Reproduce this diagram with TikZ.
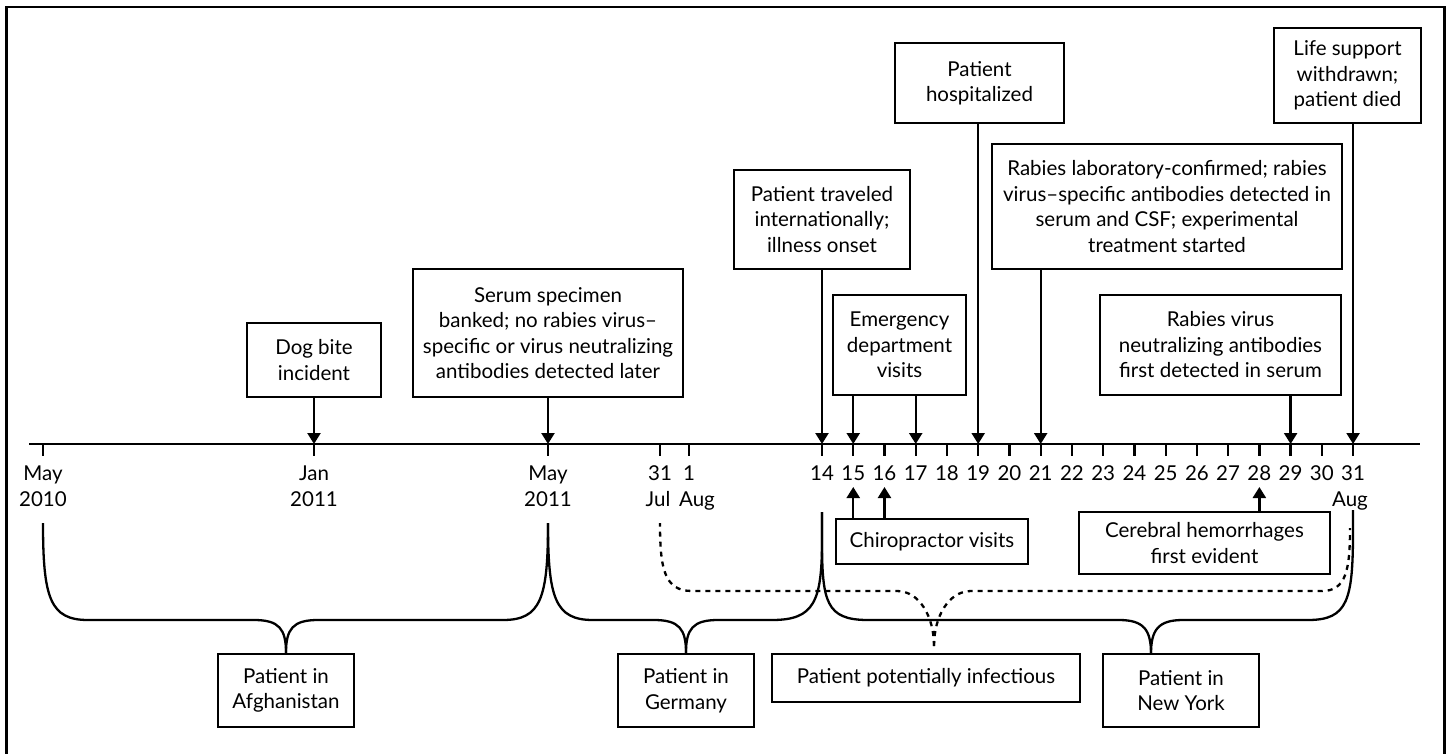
\documentclass[tikz,border=0pt]{standalone}
\usepackage{fontspec}
\setmainfont{Lato}
\usetikzlibrary{arrows.meta,calc}
\begin{document}
\begin{tikzpicture}[x=1pt,y=-1pt,
  box/.style={draw, line width=2.4pt, align=center, inner sep=0pt, font=\fontsize{20.5}{25.5}\selectfont},
  lbl/.style={inner sep=0pt, anchor=base, font=\fontsize{20.5}{24}\selectfont},
  arr/.style={line width=2.3pt, -{Triangle[width=13pt,length=11pt]}},
  tick/.style={line width=2.3pt},
  brc/.style={line width=2.3pt},
  dsh/.style={line width=2.3pt, dash pattern=on 5pt off 5pt}]
\useasboundingbox (0,0) rectangle (1448,753);
% frame (open at the bottom)
\draw[line width=2.5pt] (6.5,780) -- (6.5,7) -- (1444.5,7) -- (1444.5,780);

% axis
\draw[line width=2.6pt] (29,444) coordinate (ax0) -- (1420,444) coordinate (ax1);
\coordinate (tMay10) at (43,444);
\coordinate (tJan11) at (314,444);
\coordinate (tMay11) at (548,444);
\coordinate (tJul31) at (660,444);
\coordinate (tAug1) at (689,444);
\foreach \d in {14,...,31} \coordinate (d\d) at ({822+(\d-14)*31.24},444);
\foreach \p in {tMay10,tJan11,tMay11,tJul31,tAug1,d14,d15,d16,d17,d18,d19,d20,d21,d22,d23,d24,d25,d26,d27,d28,d29,d30,d31}
  \draw[tick] (\p) -- ++(0,12);

% axis labels
\node[lbl] (lMay10) at (43,480) {May};
\node[lbl] (l2010) at (43,506) {2010};
\node[lbl] (lJan11) at (314,480) {Jan};
\node[lbl] (l2011a) at (314,506) {2011};
\node[lbl] (lMay11) at (548,480) {May};
\node[lbl] (l2011b) at (548,506) {2011};
\node[lbl] (l31jul) at (660,480) {31};
\node[lbl] (lJul) at (658,506) {Jul};
\node[lbl] (l1aug) at (689,480) {1};
\node[lbl] (lAug1) at (697,506) {Aug};
\foreach \d in {14,...,31} \node[lbl] (ld\d) at ({822+(\d-14)*31.24},480) {\d};
\node[lbl] (lAug31) at (1350,506) {Aug};

% event boxes above the axis
\node[box, minimum width=134pt, minimum height=74pt] (dog) at (314,360) {Dog bite\\incident};
\node[box, minimum width=270pt, minimum height=128pt] (serum) at (548,333) {Serum specimen\\banked; no rabies virus–\\specific or virus neutralizing\\antibodies detected later};
\node[box, minimum width=176pt, minimum height=99pt] (trav) at (822,219.5) {Patient traveled\\internationally;\\illness onset};
\node[box, minimum width=133pt, minimum height=100pt] (emerg) at (899.5,345) {Emergency\\department\\visits};
\node[box, minimum width=169pt, minimum height=80pt] (hosp) at (979.5,83) {Patient\\hospitalized};
\node[box, minimum width=350pt, minimum height=125pt] (lab) at (1167,206.5) {Rabies laboratory-confirmed; rabies\\virus–specific antibodies detected in\\serum and CSF; experimental\\treatment started};
\node[box, minimum width=241pt, minimum height=100pt] (neut) at (1220.5,345) {Rabies virus\\neutralizing antibodies\\first detected in serum};
\node[box, minimum width=147pt, minimum height=95pt] (life) at (1347.5,75.5) {Life support\\withdrawn;\\patient died};

% boxes below the axis
\node[box, minimum width=192pt, minimum height=45pt] (chiro) at (932,541.5) {Chiropractor visits};
\node[box, minimum width=251pt, minimum height=62pt] (cereb) at (1204.5,543) {Cerebral hemorrhages\\first evident};
\node[box, minimum width=136pt, minimum height=73pt] (afg) at (286,690.5) {Patient in\\Afghanistan};
\node[box, minimum width=136pt, minimum height=73pt] (ger) at (686,690.5) {Patient in\\Germany};
\node[box, minimum width=308pt, minimum height=48pt] (inf) at (926,678) {Patient potentially infectious};
\node[box, minimum width=156pt, minimum height=73pt] (ny) at (1181,690.5) {Patient in\\New York};

% arrows down to the axis
\draw[arr] (dog.south) -- (tJan11);
\draw[arr] (serum.south) -- (tMay11);
\draw[arr] (trav.south) -- (d14);
\draw[arr] (emerg.south -| d15) -- (d15);
\draw[arr] (emerg.south -| d17) -- (d17);
\draw[arr] (hosp.south -| d19) -- (d19);
\draw[arr] (lab.south -| d21) -- (d21);
\draw[arr] (neut.south -| d29) -- (d29);
\draw[arr] (life.south -| d31) -- (d31);

% arrows up from below
\coordinate (u15) at ($(d15)+(0,43)$);
\coordinate (u16) at ($(d16)+(0,43)$);
\coordinate (u28) at ($(d28)+(0,43)$);
\draw[arr] (chiro.north -| d15) -- (u15);
\draw[arr] (chiro.north -| d16) -- (u16);
\draw[arr] (cereb.north -| d28) -- (u28);

% braces
\coordinate (bA) at (43,523);
\coordinate (bB) at (548,523);
\coordinate (bC) at (822,512);
\coordinate (bD) at (1353,510);
\coordinate (nyTip) at (1151,654);
% Afghanistan
\draw[brc] (afg.north) .. controls +(0,-24) and +(25,0) .. (254,620) -- (88,620)
   .. controls +(-38,0) and +(0,75) .. (bA);
\draw[brc] (afg.north) .. controls +(0,-24) and +(-25,0) .. (318,620) -- (503,620)
   .. controls +(38,0) and +(0,75) .. (bB);
% Germany
\draw[brc] (ger.north) .. controls +(0,-24) and +(25,0) .. (654,620) -- (593,620)
   .. controls +(-38,0) and +(0,75) .. (bB);
\draw[brc] (ger.north) .. controls +(0,-24) and +(-25,0) .. (718,620) -- (772,620)
   .. controls +(42,0) and +(0,62) .. (822,540) -- (bC);
% New York
\draw[brc] (nyTip) .. controls +(0,-24) and +(25,0) .. (1119,620) -- (868,620)
   .. controls +(-42,0) and +(0,62) .. (822,540) -- (bC);
\draw[brc] (nyTip) .. controls +(0,-24) and +(-25,0) .. (1183,620) -- (1308,620)
   .. controls +(40,0) and +(0,70) .. (1353,530) -- (bD);
% potentially infectious (dashed)
\coordinate (dTip) at (934,646);
\coordinate (dL) at (660,523);
\coordinate (dR) at (1350,528);
\draw[dsh] (dTip) .. controls +(0,-30) and +(22,0) .. (897,591) -- (692,591)
   .. controls +(-28,0) and +(0,45) .. (dL);
\draw[dsh] (dTip) .. controls +(0,-30) and +(-22,0) .. (971,591) -- (1322,591)
   .. controls +(24,0) and +(0,42) .. (dR);
\end{tikzpicture}
\end{document}
